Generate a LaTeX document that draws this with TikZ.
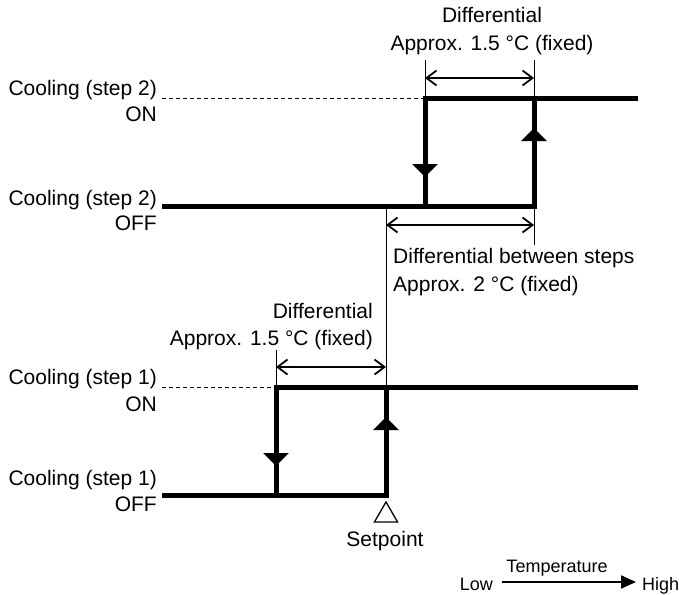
\documentclass[tikz,border=0pt]{standalone}
\usepackage{fontspec}
\setmainfont{Liberation Sans}
\usetikzlibrary{arrows.meta,decorations.markings,shapes.geometric}
\begin{document}
\begin{tikzpicture}[x=1pt,y=-1pt,
  lbl/.style={inner sep=0pt, font=\fontsize{21}{25}\selectfont},
  small/.style={inner sep=0pt, font=\fontsize{18}{22}\selectfont},
  thickline/.style={line width=5pt, line join=miter},
  thinline/.style={line width=1pt},
  dashline/.style={line width=1pt, dash pattern=on 4pt off 3pt},
  dim/.style={line width=1.8pt, {Straight Barb[length=10pt,width=15pt]}-{Straight Barb[length=10pt,width=15pt]}},
  dirmark/.style={decoration={markings, mark=at position #1 with {\arrow{Triangle[length=13pt,width=25pt]}}}, postaction={decorate}},
]
\useasboundingbox (0,0) rectangle (679,594);

% ---------- step 2 ----------
\coordinate (a2) at (162,206);
\coordinate (b2) at (425,206);
\coordinate (c2) at (534,206);
\coordinate (d2) at (425,98);
\coordinate (e2) at (534,98);
\coordinate (f2) at (638,98);
\coordinate (g2) at (162,98);
\draw[dashline] (g2) -- (d2);
\draw[thickline, dirmark=-30pt] (a2) -- (c2) -- (e2);
\draw[thickline, dirmark=-29pt] (f2) -- (d2) -- (b2);

% differential step 2
\coordinate (x2l) at (425,60);
\coordinate (x2r) at (534,60);
\draw[thinline] (x2l) -- (d2);
\draw[thinline] (x2r) -- (e2);
\coordinate (m2l) at (425,78);
\coordinate (m2r) at (534,78);
\draw[dim] (m2l) -- (m2r);
\node[lbl, anchor=base] (t2a) at (492,23) {Differential};
\node[lbl, anchor=base] (t2b) at (492,50) {Approx. 1.5 °C (fixed)};

% ---------- step 1 ----------
\coordinate (a1) at (162,495);
\coordinate (b1) at (276,495);
\coordinate (c1) at (386,495);
\coordinate (d1) at (276,387);
\coordinate (e1) at (386,387);
\coordinate (f1) at (638,387);
\coordinate (g1) at (162,387);
\draw[dashline] (g1) -- (d1);
\draw[thickline, dirmark=-30pt] (a1) -- (c1) -- (e1);
\draw[thickline, dirmark=-29pt] (f1) -- (d1) -- (b1);

% setpoint line and differential between steps
\coordinate (sptop) at (386,206);
\draw[thinline] (sptop) -- (e1);
\coordinate (xbr) at (534,245);
\draw[thinline] (c2) -- (xbr);
\coordinate (mbl) at (386,225);
\coordinate (mbr) at (534,225);
\draw[dim] (mbl) -- (mbr);
\node[lbl, anchor=base west] (tba) at (393,263) {Differential between steps};
\node[lbl, anchor=base west] (tbb) at (393,291) {Approx. 2 °C (fixed)};

% differential step 1
\coordinate (x1l) at (276,350);
\draw[thinline] (x1l) -- (d1);
\coordinate (m1l) at (276,367);
\coordinate (m1r) at (386,367);
\draw[dim] (m1l) -- (m1r);
\node[lbl, anchor=base east] (t1a) at (373,318) {Differential};
\node[lbl, anchor=base east] (t1b) at (373,345) {Approx. 1.5 °C (fixed)};

% ---------- left labels ----------
\node[lbl, anchor=base east] (l2on) at (157,95) {Cooling (step 2)};
\node[lbl, anchor=base east] (l2onb) at (157,121) {ON};
\node[lbl, anchor=base east] (l2off) at (157,205) {Cooling (step 2)};
\node[lbl, anchor=base east] (l2offb) at (157,230) {OFF};
\node[lbl, anchor=base east] (l1on) at (157,384) {Cooling (step 1)};
\node[lbl, anchor=base east] (l1onb) at (157,411) {ON};
\node[lbl, anchor=base east] (l1off) at (157,485) {Cooling (step 1)};
\node[lbl, anchor=base east] (l1offb) at (157,511) {OFF};

% ---------- setpoint ----------
\node[draw, regular polygon, regular polygon sides=3, minimum size=26.7pt, inner sep=0pt, line width=1.3pt] (sp) at (386,515.3) {};
\node[lbl, anchor=base] (spt) at (385,546) {Setpoint};

% ---------- temperature ----------
\node[small, anchor=base east] (low) at (493,590) {Low};
\node[small, anchor=base west] (high) at (642,590) {High};
\node[small, anchor=base] (temp) at (557,572) {Temperature};
\coordinate (ta) at (502,582);
\coordinate (tb) at (636,582);
\draw[line width=2pt, -{Triangle[length=15pt,width=13pt]}] (ta) -- (tb);
\end{tikzpicture}
\end{document}
